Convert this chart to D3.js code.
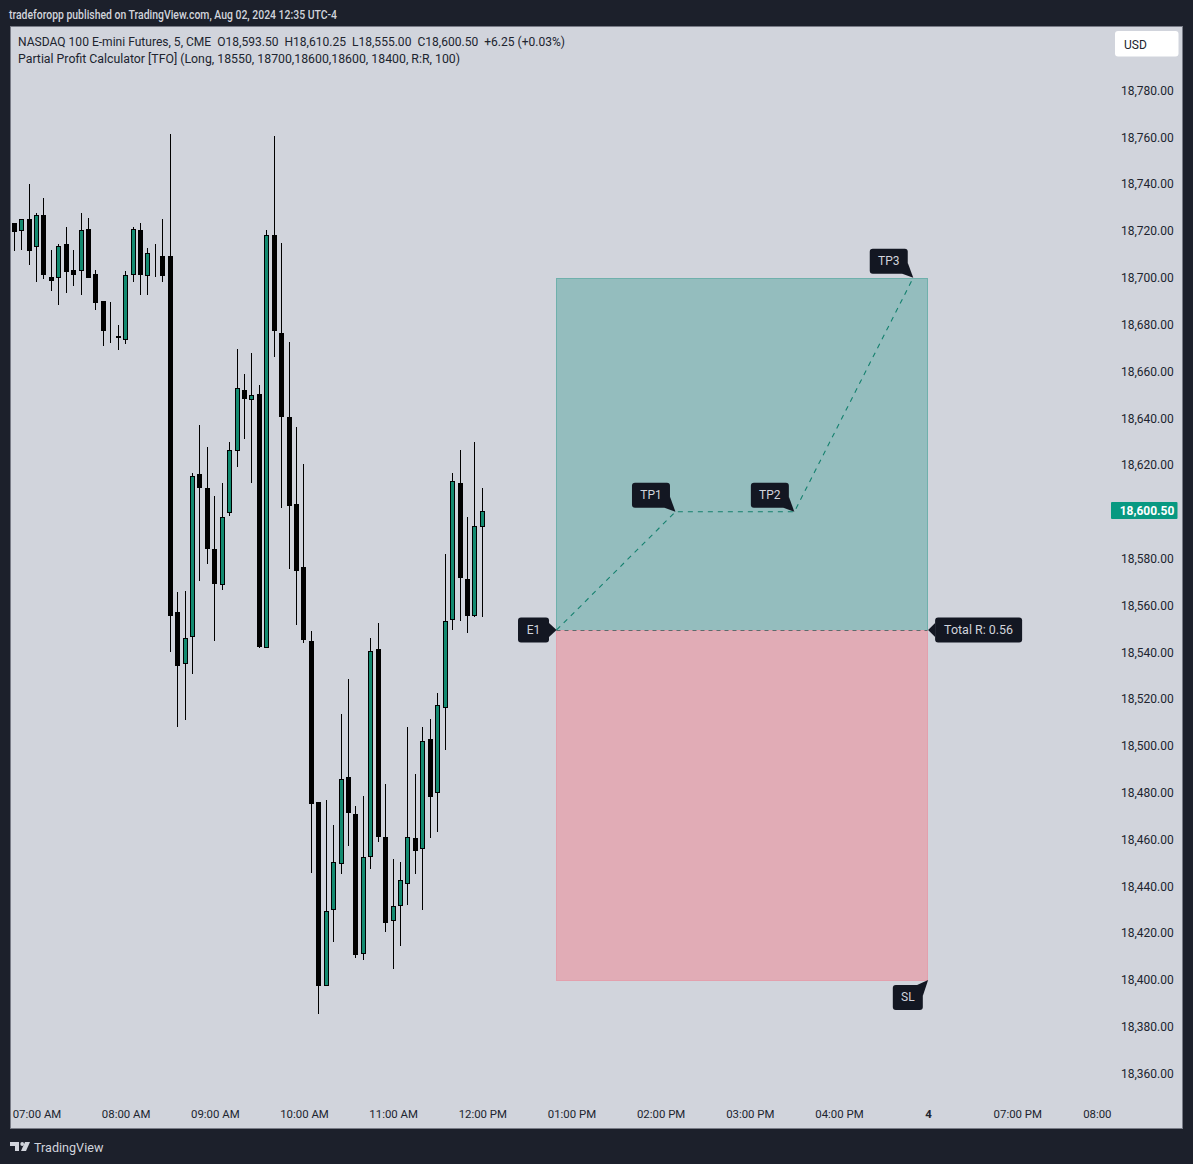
<!DOCTYPE html>
<html>
<head>
<meta charset="utf-8">
<script src="https://d3js.org/d3.v7.min.js"></script>
<style>
  html, body { margin: 0; padding: 0; background: #1c202b; }
  svg { display: block; }
  text { font-family: Roboto, "Liberation Sans", sans-serif; white-space: pre; }
</style>
</head>
<body>
<div id="chart"></div>
<script>
// 5 minute bars, first one is 06:45 AM, last one 12:00 PM
var opens = [18723.25,18719.75,18725,18713,18726.75,18700.25,18699.75,18714.5,18703.25,18702.75,18720.75,18701.5,18690,18676.5,18675,18673.25,
  18701,18720.25,18700.5,18710,18709.5,18709.25,18557.25,18534.75,18546.75,18616.25,18610.25,18584,18568.75,18599.5,18625.75,18652,
  18647.5,18650.25,18542,18718.25,18676.5,18640.5,18603.25,18576.5,18544.75,18476,18397.25,18429.75,18449.5,18486.75,18470.75,18411,
  18452.5,18541.5,18461.25,18425.25,18431.5,18441.25,18460.5,18456.25,18503,18479.75,18516.5,18553.5,18612.25,18571.25,18555.25,18593.5];
var highs = [18723.5,18725,18740,18727.5,18734.25,18712,18714.25,18721.75,18712,18727.5,18725.5,18703.25,18690.25,18689.5,18679.75,18702.75,
  18721.5,18723.25,18712.5,18714.25,18725,18761.5,18565.75,18566.25,18616.75,18637,18627.75,18606.75,18612.25,18630,18669.5,18658.75,
  18668,18654,18720.25,18760.5,18714.75,18672.5,18636.25,18620.5,18549,18476,18476.75,18466,18513.5,18528.5,18474.25,18478.5,
  18546,18552.5,18483.5,18451.75,18450.25,18508,18488,18508,18511.5,18522.75,18582,18616.5,18626.5,18597.75,18629.75,18610.25];
var lows = [18711.5,18711.75,18705.25,18698.25,18699.5,18694.5,18688.5,18693.5,18696.5,18692.75,18700,18686.25,18671,18672.25,18669.25,18671.75,
  18698,18692.75,18692.75,18700.5,18698,18540.25,18508.25,18511.25,18530.75,18570.25,18577.75,18545,18566.75,18598,18619.25,18631.25,
  18612.5,18542,18542,18666.25,18601.75,18575.5,18551.5,18543.75,18445.75,18385.5,18397.25,18416.25,18445.25,18457,18409.5,18408.5,
  18447.5,18459,18420.5,18404.5,18414.5,18432,18445.25,18430,18460.75,18463,18498.25,18549.5,18553.5,18548,18555,18555];
var closes = [18719.25,18725,18711.5,18726.75,18701.25,18698.75,18713.5,18702.5,18701,18720.25,18700,18689.25,18677,18676.25,18674,18701,
  18720.75,18701,18710.5,18709.5,18701,18555.5,18534.25,18546,18615.5,18610.25,18584.25,18569.25,18597.75,18626.25,18652.75,18648.25,
  18649.75,18542,18718.25,18677.25,18640.5,18602.5,18574.5,18545.25,18475.25,18397.5,18429.25,18450.25,18486,18471.5,18410.5,18452.5,
  18540.5,18461.25,18424.5,18431.5,18442.5,18461.25,18454.75,18502.25,18478.25,18517.25,18553.5,18613,18571.75,18555.25,18593.75,18600.5];

var yTicks = [18780,18760,18740,18720,18700,18680,18660,18640,18620,18580,18560,18540,18520,18500,18480,18460,18440,18420,18400,18380,18360];
var xTickBars = [3,15,27,39,51,63,75,87,99,111,123,135,147];
var xTickLabels = ["07:00 AM","08:00 AM","09:00 AM","10:00 AM","11:00 AM","12:00 PM","01:00 PM","02:00 PM","03:00 PM","04:00 PM","4","07:00 PM","08:00"];

// position tool, entry is drawn where the picture has it (a hair under 18550)
var entryPrice = 18549.5, tpPrice = 18700, slPrice = 18400, lastPrice = 18600.5;
var boxStartBar = 73, boxEndBar = 123;
var pathBars = [73,89,105,121];
var pathPrices = [18549.5,18600,18600,18700];

var titleText = "tradeforopp published on TradingView.com, Aug 02, 2024 12:35 UTC-4";
var legendLines = ["NASDAQ 100 E-mini Futures, 5, CME  O18,593.50  H18,610.25  L18,555.00  C18,600.50  +6.25 (+0.03%)",
  "Partial Profit Calculator [TFO] (Long, 18550, 18700,18600,18600, 18400, R:R, 100)"];
var legendWidths = [547, 442];

var labelNames = ["TP1","TP2","TP3","E1","Total R: 0.56","SL"];
var labelBars = [89,105,121,73,123,123];
var labelPrices = [18600,18600,18700,18549.5,18549.5,18400];
var labelKinds = ["above","above","above","left","right","below"];

var W = 1193, H = 1164;
var bg = "#d1d4dc", dark = "#131722", green = "#138a70";

var svg = d3.select("#chart").append("svg").attr("width", W).attr("height", H);

var x = d3.scaleLinear().domain([0, 63]).range([14.2, 482.3]);
var y = d3.scaleLinear().domain([18360, 18780]).range([1073.5, 90.5]);

// panel
svg.append("rect").attr("x", 10.5).attr("y", 26.5).attr("width", 1172).attr("height", 1102)
  .attr("fill", bg).attr("stroke", "#787b86");

svg.append("text").attr("x", 9).attr("y", 18.5).attr("fill", "#d1d4dc").attr("font-size", 12).attr("font-weight", 500)
  .attr("textLength", 328).attr("lengthAdjust", "spacingAndGlyphs").text(titleText);

svg.selectAll("text.legend").data(legendLines).enter().append("text")
  .attr("class", "legend")
  .attr("x", 18)
  .attr("y", function(d, i) { return 45.5 + i * 17; })
  .attr("fill", "#20242f").attr("font-size", 12)
  .attr("textLength", function(d, i) { return legendWidths[i]; })
  .attr("lengthAdjust", "spacingAndGlyphs")
  .text(function(d) { return d; });

// candles
var bars = d3.range(opens.length);
function col(i) { return Math.floor(x(i)); }

var candle = svg.append("g").attr("shape-rendering", "crispEdges").selectAll("g").data(bars).enter().append("g");

candle.append("line")
  .attr("x1", function(i) { return col(i) + 0.5; })
  .attr("x2", function(i) { return col(i) + 0.5; })
  .attr("y1", function(i) { return y(highs[i]); })
  .attr("y2", function(i) { return y(lows[i]); })
  .attr("stroke", "#000");

candle.append("rect")
  .attr("x", function(i) { return col(i) - 1.5; })
  .attr("width", 4)
  .attr("y", function(i) { return Math.round(y(Math.max(opens[i], closes[i]))) + 0.5; })
  .attr("height", function(i) { return Math.max(0, Math.round(Math.abs(y(opens[i]) - y(closes[i]))) - 1); })
  .attr("fill", function(i) { return closes[i] >= opens[i] ? green : "#000"; })
  .attr("stroke", "#000");

// profit and loss boxes, snapped to whole pixels
var boxLeft = Math.floor(x(boxStartBar)) + 0.5, boxRight = Math.floor(x(boxEndBar)) - 0.5;
var boxTop = Math.round(y(tpPrice)) + 0.5, boxMid = Math.round(y(entryPrice)) + 0.5, boxBottom = Math.round(y(slPrice)) + 0.5;

svg.append("rect")
  .attr("x", boxLeft).attr("y", boxTop)
  .attr("width", boxRight - boxLeft).attr("height", boxMid - boxTop)
  .attr("fill", "#94bdbe").attr("stroke", "#6fb0ac");
svg.append("rect")
  .attr("x", boxLeft).attr("y", boxMid)
  .attr("width", boxRight - boxLeft).attr("height", boxBottom - boxMid)
  .attr("fill", "#e1acb6").attr("stroke", "#e3a0ad");

svg.append("line")
  .attr("x1", boxLeft).attr("x2", boxRight)
  .attr("y1", boxMid).attr("y2", boxMid)
  .attr("stroke", "#5a6b6b").attr("stroke-dasharray", "4,4");

var line = d3.line().x(function(i) { return x(pathBars[i]); }).y(function(i) { return y(pathPrices[i]); });
svg.append("path")
  .attr("d", line(d3.range(pathBars.length)))
  .attr("fill", "none").attr("stroke", "#14806e").attr("stroke-width", 1.1).attr("stroke-dasharray", "5,5");

// callouts
labelNames.forEach(function(name, i) {
  var ax = x(labelBars[i]), ay = y(labelPrices[i]), kind = labelKinds[i];
  var g = svg.append("g");
  var t = g.append("text").attr("fill", "#d1d4dc").attr("font-size", 12).attr("text-anchor", "middle").text(name);
  var w, h = 25;
  var bx, by, pts;
  if (kind == "above") {
    w = 38;
    bx = ax - 5.5 - w; by = ay - 4 - h;
    pts = [[ax - 5.5, ay - 15], [ax, ay], [ax - 11, ay - 4]];
  } else if (kind == "below") {
    w = 30;
    bx = ax - 5.3 - w; by = ay + 5;
    pts = [[ax - 5.3, ay + 16], [ax, ay], [ax - 11, ay + 5]];
  } else if (kind == "left") {
    w = 31;
    bx = ax - 7.6 - w; by = ay - h / 2;
    pts = [[ax - 7.6, ay - 7], [ax, ay], [ax - 7.6, ay + 7]];
  } else {
    w = 87;
    bx = ax + 7; by = ay - h / 2;
    pts = [[ax + 7, ay - 7], [ax, ay], [ax + 7, ay + 7]];
    t.attr("textLength", 69).attr("lengthAdjust", "spacingAndGlyphs");
  }
  g.insert("polygon", "text").attr("points", pts.join(" ")).attr("fill", dark);
  g.insert("rect", "text").attr("x", bx).attr("y", by).attr("width", w).attr("height", h).attr("rx", 3).attr("fill", dark);
  t.attr("x", bx + w / 2).attr("y", by + h / 2 + 4);
});

// axes
var yAxis = svg.append("g").attr("transform", "translate(1121,0)")
  .call(d3.axisRight(y).tickValues(yTicks).tickFormat(d3.format(",.2f")).tickSize(0).tickPadding(0));
yAxis.select(".domain").remove();
yAxis.selectAll("text").attr("fill", "#20242f").attr("font-size", 12).attr("font-family", "Roboto");

var xAxis = svg.append("g").attr("transform", "translate(0,1109.5)")
  .call(d3.axisBottom(x).tickValues(xTickBars).tickFormat(function(d, i) { return xTickLabels[i]; }).tickSize(0).tickPadding(0));
xAxis.select(".domain").remove();
xAxis.selectAll("text")
  .attr("fill", "#20242f").attr("font-size", 11.4).attr("font-family", "Roboto")
  .attr("font-weight", function(d, i) { return xTickLabels[i] == "4" ? 700 : 400; })
  .each(function(d) {
    // labels next to the price scale get pushed left
    var over = x(d) + this.getComputedTextLength() / 2 - 1111;
    if (over > 0) d3.select(this).attr("dx", -over);
  });

// last price tag
svg.append("rect").attr("x", 1111).attr("y", y(lastPrice) - 8.5).attr("width", 66.5).attr("height", 17).attr("rx", 1).attr("fill", "#089981");
svg.append("text").attr("x", 1147).attr("y", y(lastPrice) + 4.5).attr("text-anchor", "middle")
  .attr("fill", "#fff").attr("font-size", 12).attr("font-weight", 700).text(d3.format(",.2f")(lastPrice));

// currency button
svg.append("rect").attr("x", 1115).attr("y", 31).attr("width", 63.5).attr("height", 25.5).attr("rx", 3).attr("fill", "#fff");
svg.append("text").attr("x", 1124).attr("y", 48.5).attr("fill", "#20242f").attr("font-size", 12).text("USD");

// logo
var logo = svg.append("g").attr("fill", "#d1d4dc");
logo.append("path").attr("d", "M10 1142H19V1151H15V1146H10Z");
logo.append("circle").attr("cx", 22.2).attr("cy", 1144).attr("r", 1.9);
logo.append("path").attr("d", "M25 1142H30L26 1151H21Z");
svg.append("text").attr("x", 34).attr("y", 1151.5).attr("fill", "#d1d4dc").attr("font-size", 12.6).text("TradingView");
</script>
</body>
</html>
